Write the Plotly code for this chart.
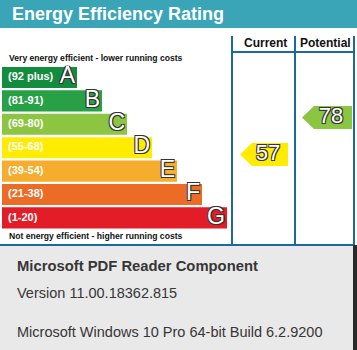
import plotly.graph_objects as go

# ---- data ----
bands = ["A", "B", "C", "D", "E", "F", "G"]
band_ranges = ["(92 plus)", "(81-91)", "(69-80)", "(55-68)", "(39-54)", "(21-38)", "(1-20)"]
band_colors = ["#138c3e", "#27a046", "#8cc541", "#ffec00", "#f6ad2e", "#ec6b25", "#e31d27"]
current_rating = 57
potential_rating = 78
current_color = band_colors[3]
potential_color = band_colors[2]
title_text = "Energy Efficiency Rating"
col_headers = ["Current", "Potential"]
top_note = "Very energy efficient - lower running costs"
bottom_note = "Not energy efficient - higher running costs"
info_lines = ["Microsoft PDF Reader Component", "Version 11.00.18362.815",
              "Microsoft Windows 10 Pro 64-bit Build 6.2.9200"]

W, H = 357, 350
FONT = "Liberation Sans, Arial, sans-serif"
FRAME = "#1c6a9c"
OUTLINE = "-1px -1px 0 #333, 1px -1px 0 #333, -1px 1px 0 #333, 1px 1px 0 #333"

def py(y):  # pixel -> paper
    return 1 - y / H

bar_base = 2
bar_lengths = [75 + 25 * i for i in range(len(bands))]

fig = go.Figure()

# rating bars (category axis y2)
fig.add_trace(go.Bar(
    y=bands, x=bar_lengths, base=bar_base, orientation="h",
    marker=dict(color=band_colors, line=dict(width=0)), width=0.9,
    xaxis="x", yaxis="y2", hoverinfo="skip", showlegend=False))
fig.add_trace(go.Scatter(
    y=bands, x=[8] * len(bands), mode="text", text=band_ranges,
    textposition="middle right", xaxis="x", yaxis="y2",
    textfont=dict(family=FONT, size=11, color="white", weight="bold"),
    hoverinfo="skip", showlegend=False))
fig.add_trace(go.Scatter(
    y=bands, x=[bar_base + L - 2 for L in bar_lengths], mode="text", text=bands,
    textposition="middle left", xaxis="x", yaxis="y2",
    textfont=dict(family=FONT, size=23, color="white", shadow=OUTLINE),
    hoverinfo="skip", showlegend=False))

# rating arrows on a value axis (y3)
def arrow(value, tip, right, color):
    h = 6.5  # half-height in rating units
    s = 12
    xs = [tip, tip + s, right, right, tip + s, tip]
    ys = [value, value + h, value + h, value - h, value - h, value]
    fig.add_trace(go.Scatter(x=xs, y=ys, fill="toself", fillcolor=color, mode="lines",
                             line=dict(width=0), xaxis="x", yaxis="y3",
                             hoverinfo="skip", showlegend=False))
    fig.add_trace(go.Scatter(x=[(tip + s + right) / 2 - 2], y=[value], mode="text",
                             text=[str(value)], textposition="middle center",
                             xaxis="x", yaxis="y3",
                             textfont=dict(family=FONT, size=22, color="white", shadow=OUTLINE),
                             hoverinfo="skip", showlegend=False))

arrow(current_rating, 240, 288, current_color)
arrow(potential_rating, 302, 352, potential_color)

shapes = [
    dict(type="rect", xref="x", yref="paper", x0=0, x1=W, y0=py(28), y1=1,
         fillcolor="#3ba5b8", line=dict(width=0), layer="below"),
    dict(type="line", xref="x", yref="paper", x0=232, x1=232, y0=py(36), y1=py(245),
         line=dict(color=FRAME, width=2)),
    dict(type="line", xref="x", yref="paper", x0=295, x1=295, y0=py(36), y1=py(245),
         line=dict(color=FRAME, width=2)),
    dict(type="line", xref="x", yref="paper", x0=354, x1=354, y0=py(36), y1=py(245),
         line=dict(color=FRAME, width=2)),
    dict(type="line", xref="x", yref="paper", x0=232, x1=354, y0=py(52), y1=py(52),
         line=dict(color=FRAME, width=2)),
    dict(type="line", xref="x", yref="paper", x0=0, x1=354, y0=py(245), y1=py(245),
         line=dict(color=FRAME, width=2)),
    dict(type="rect", xref="x", yref="paper", x0=0, x1=353, y0=0, y1=py(246),
         fillcolor="#e9e9e9", line=dict(width=0), layer="above"),
    dict(type="rect", xref="x", yref="paper", x0=353, x1=W, y0=0, y1=py(245),
         fillcolor="#2a2a2a", line=dict(width=0), layer="above"),
]

ann = []
ann.append(dict(x=10, y=py(14), xref="x", yref="paper", text=title_text, showarrow=False,
                xanchor="left", yanchor="middle",
                font=dict(family=FONT, size=18, color="white", weight="bold")))
ann.append(dict(x=265, y=py(43), xref="x", yref="paper", text=col_headers[0], showarrow=False,
                xanchor="center", yanchor="middle",
                font=dict(family=FONT, size=12, color="#111", weight="bold")))
ann.append(dict(x=325, y=py(43), xref="x", yref="paper", text=col_headers[1], showarrow=False,
                xanchor="center", yanchor="middle",
                font=dict(family=FONT, size=12, color="#111", weight="bold")))
ann.append(dict(x=7, y=py(58), xref="x", yref="paper", text=top_note, showarrow=False,
                xanchor="left", yanchor="middle",
                font=dict(family=FONT, size=8.6, color="#111", weight="bold")))
ann.append(dict(x=7, y=py(236), xref="x", yref="paper", text=bottom_note, showarrow=False,
                xanchor="left", yanchor="middle",
                font=dict(family=FONT, size=8.6, color="#111", weight="bold")))
info_y = [266, 293, 332]
info_sizes = [14.8, 14.5, 14.5]
for i, (t, yy) in enumerate(zip(info_lines, info_y)):
    ann.append(dict(x=15, y=py(yy), xref="x", yref="paper", text=t, showarrow=False,
                    xanchor="left", yanchor="middle",
                    font=dict(family=FONT, size=info_sizes[i], color="#363636",
                              weight="bold" if i == 0 else "normal")))

band_top, band_bot = 65.8, 229.6
fig.update_layout(
    width=W, height=H, margin=dict(l=0, r=0, t=0, b=0),
    paper_bgcolor="white", plot_bgcolor="rgba(0,0,0,0)",
    xaxis=dict(range=[0, W], visible=False, fixedrange=True),
    yaxis=dict(range=[H, 0], visible=False, domain=[0, 1]),
    yaxis2=dict(type="category", categoryorder="array", categoryarray=bands,
                range=[6.5, -0.5], domain=[py(band_bot), py(band_top)],
                anchor="x", visible=False),
    yaxis3=dict(range=[57 - (H - 154.5) / 1.762, 57 + 154.5 / 1.762], domain=[0, 1],
                anchor="x", visible=False),
    shapes=shapes, annotations=ann, bargap=0.1,
)

fig.write_html("out.html")
